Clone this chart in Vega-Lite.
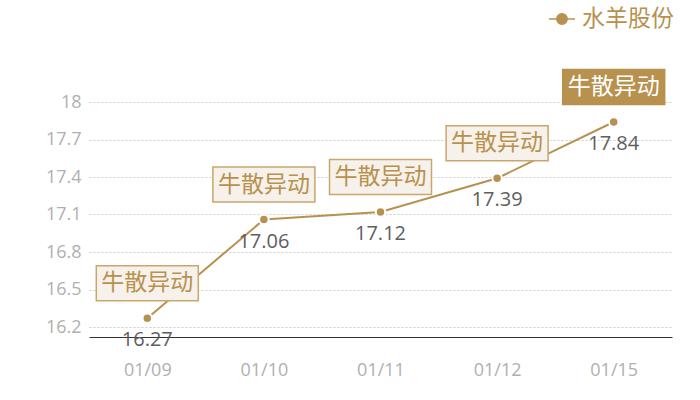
{
  "$schema": "https://vega.github.io/schema/vega-lite/v6.json",
  "autosize": "none",
  "width": 583,
  "height": 235,
  "padding": {"left": 89, "top": 102, "right": 28, "bottom": 63},
  "background": "white",
  "config": {
    "view": {"stroke": null},
    "font": "Noto Sans CJK SC"
  },
  "data": {
    "values": [
      {"date": "01/09", "price": 16.27, "name": "水羊股份"},
      {"date": "01/10", "price": 17.06, "name": "水羊股份"},
      {"date": "01/11", "price": 17.12, "name": "水羊股份"},
      {"date": "01/12", "price": 17.39, "name": "水羊股份"},
      {"date": "01/15", "price": 17.84, "name": "水羊股份"}
    ]
  },
  "encoding": {
    "x": {
      "field": "date",
      "type": "ordinal",
      "scale": {"type": "point", "padding": 0.5},
      "axis": {
        "title": null,
        "labelAngle": 0,
        "labelFont": "Open Sans",
        "labelFontSize": 18,
        "labelColor": "#b0b0b0",
        "labelPadding": 24,
        "ticks": false,
        "domainColor": "#333333",
        "domainWidth": 1,
        "grid": false
      }
    },
    "y": {
      "field": "price",
      "type": "quantitative",
      "scale": {"domain": [16.12, 18], "nice": false, "zero": false},
      "axis": {
        "title": null,
        "values": [16.2, 16.5, 16.8, 17.1, 17.4, 17.7, 18],
        "format": ".1~f",
        "labelFont": "Open Sans",
        "labelFontSize": 18,
        "labelColor": "#b0b0b0",
        "labelPadding": 8,
        "ticks": false,
        "domain": false,
        "grid": true,
        "gridColor": "#cccccc",
        "gridDash": [2, 2],
        "gridWidth": 1
      }
    }
  },
  "layer": [
    {
      "mark": {"type": "line", "strokeWidth": 2},
      "encoding": {
        "color": {
          "field": "name",
          "type": "nominal",
          "scale": {"range": ["#b8914f"]},
          "legend": {
            "title": null,
            "orient": "none",
            "legendX": 459,
            "legendY": -97,
            "symbolType": "M-1,0H1M-0.4,0A0.4,0.4,0,1,1,0.4,0A0.4,0.4,0,1,1,-0.4,0",
            "symbolSize": 676,
            "symbolStrokeWidth": 1.5,
            "symbolFillColor": "#b8914f",
            "labelFontSize": 23,
            "labelColor": "#b8914f",
            "labelOffset": 6
          }
        }
      }
    },
    {
      "mark": {"type": "point", "filled": true, "size": 90, "color": "#b8914f", "stroke": "white", "strokeWidth": 2, "opacity": 1}
    },
    {
      "mark": {"type": "text", "yOffset": 22, "font": "Open Sans", "fontSize": 20, "color": "#5e5e5e"},
      "encoding": {"text": {"field": "price", "type": "quantitative", "format": ".2f"}}
    },
    {
      "mark": {
        "type": "point",
        "shape": "M-1,-0.343H1V0.343H-1Z",
        "size": 10404,
        "yOffset": -35,
        "strokeWidth": 1.5,
        "opacity": 1,
        "filled": false
      },
      "encoding": {
        "fill": {
          "condition": {"test": "datum.date === '01/15'", "value": "#b8914f"},
          "value": "#f6f1ea"
        },
        "stroke": {
          "condition": {"test": "datum.date === '01/15'", "value": "#b8914f"},
          "value": "#c9a66b"
        }
      }
    },
    {
      "mark": {"type": "text", "yOffset": -35, "fontSize": 23},
      "encoding": {
        "text": {"value": "牛散异动"},
        "color": {
          "condition": {"test": "datum.date === '01/15'", "value": "#ffffff"},
          "value": "#b8914f"
        }
      }
    }
  ]
}
